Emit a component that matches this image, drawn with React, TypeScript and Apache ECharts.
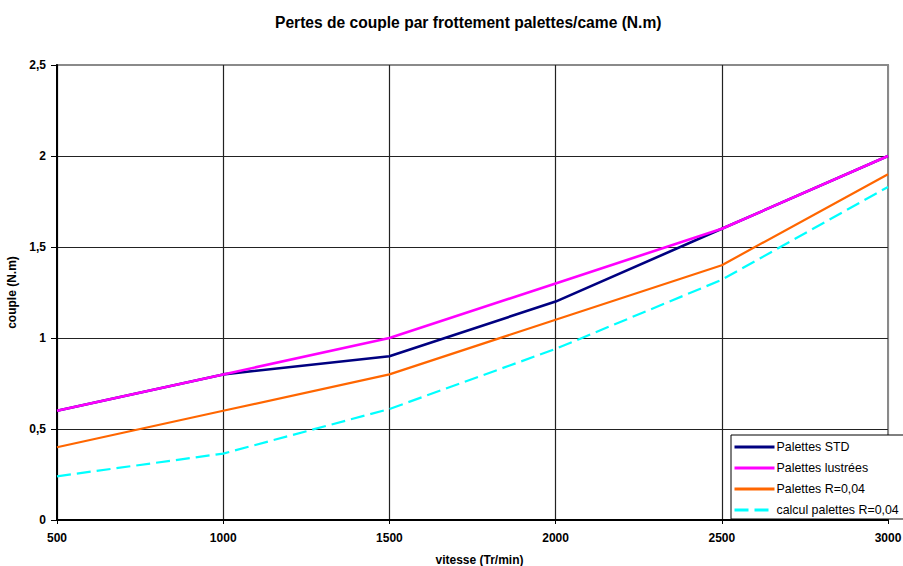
import React, { useEffect, useRef } from "react";
import * as echarts from "echarts";

const speeds = [500, 1000, 1500, 2000, 2500, 3000];
const palettesSTD = [0.6, 0.8, 0.9, 1.2, 1.6, 2.0];
const palettesLustrees = [0.6, 0.8, 1.0, 1.3, 1.6, 2.0];
const palettesR004 = [0.4, 0.6, 0.8, 1.1, 1.4, 1.9];
const calculR004 = [0.24, 0.365, 0.61, 0.94, 1.32, 1.83];

const seriesNames = ["Palettes STD", "Palettes lustrées", "Palettes R=0,04", "calcul palettes R=0,04"];
const xTicks = [500, 1000, 1500, 2000, 2500, 3000];
const yTicks = ["0", "0,5", "1", "1,5", "2", "2,5"];

const FONT = "'Liberation Sans', Arial, sans-serif";

function pairs(vals: number[]) {
  return speeds.map((s, i) => [s, vals[i]]);
}

export default function App() {
  const ref = useRef<HTMLDivElement>(null);
  useEffect(() => {
    if (!ref.current) return;
    const chart = echarts.init(ref.current, null, { renderer: "svg" });
    chart.setOption({
      animation: false,
      backgroundColor: "#ffffff",
      textStyle: { fontFamily: FONT },
      title: {
        text: "Pertes de couple par frottement palettes/came (N.m)",
        left: 270,
        top: 9,
        textStyle: { fontFamily: FONT, fontSize: 15.6, fontWeight: "bold", color: "#000" },
      },
      grid: {
        left: 57,
        right: 15,
        top: 65,
        bottom: 46,
        show: true,
        borderColor: "#8a8a8a",
        borderWidth: 2,
        backgroundColor: "#fff",
        outerBoundsMode: "none",
        containLabel: false,
      },
      xAxis: {
        type: "value",
        min: 500,
        max: 3000,
        interval: 500,
        name: "vitesse (Tr/min)",
        nameLocation: "middle",
        nameGap: 34,
        nameTextStyle: { fontFamily: FONT, fontSize: 12, fontWeight: "bold", color: "#000", padding: [0, 0, 0, 14] },
        axisLine: { lineStyle: { color: "#000", width: 2 } },
        axisTick: { show: true, length: 4, lineStyle: { color: "#000" } },
        axisLabel: {
          fontFamily: FONT,
          fontSize: 12,
          fontWeight: "bold",
          color: "#000",
          margin: 12,
          formatter: (v: number) => String(xTicks[xTicks.indexOf(v)] ?? v),
        },
        splitLine: {
          show: true,
          lineStyle: { color: ["#222", "#222", "#222", "#222", "#222", "#8a8a8a"], width: 1.2 },
        },
      },
      yAxis: {
        type: "value",
        min: 0,
        max: 2.5,
        interval: 0.5,
        name: "couple (N.m)",
        nameLocation: "middle",
        nameGap: 35,
        nameRotate: 90,
        nameTextStyle: { fontFamily: FONT, fontSize: 12, fontWeight: "bold", color: "#000" },
        axisLine: { show: true, lineStyle: { color: "#000", width: 2 } },
        axisTick: { show: true, length: 6, lineStyle: { color: "#000" } },
        axisLabel: {
          fontFamily: FONT,
          fontSize: 12,
          fontWeight: "bold",
          color: "#000",
          margin: 11,
          formatter: (v: number) => yTicks[Math.round(v / 0.5)] ?? String(v),
        },
        splitLine: {
          show: true,
          lineStyle: { color: ["#222", "#222", "#222", "#222", "#222", "#8a8a8a"], width: 1.2 },
        },
      },
      legend: {
        orient: "vertical",
        left: 731,
        top: 435,
        backgroundColor: "#fff",
        borderColor: "#000",
        borderWidth: 1,
        borderRadius: 0,
        padding: [6, 40, 3, 2],
        itemWidth: 40,
        itemHeight: 14,
        itemGap: 9,
        itemStyle: { opacity: 0 },
        lineStyle: { width: 3 },
        textStyle: { fontFamily: FONT, fontSize: 12.4, color: "#000", padding: [0, 0, 0, -3] },
        data: seriesNames,
      },
      series: [
        {
          name: seriesNames[0],
          type: "line",
          data: pairs(palettesSTD),
          symbol: "none",
          lineStyle: { color: "#000080", width: 2.6 },
          itemStyle: { color: "#000080" },
          z: 3,
        },
        {
          name: seriesNames[1],
          type: "line",
          data: pairs(palettesLustrees),
          symbol: "none",
          lineStyle: { color: "#ff00ff", width: 2.6 },
          itemStyle: { color: "#ff00ff" },
          z: 4,
        },
        {
          name: seriesNames[2],
          type: "line",
          data: pairs(palettesR004),
          symbol: "none",
          lineStyle: { color: "#ff6600", width: 2.2 },
          itemStyle: { color: "#ff6600" },
          z: 2,
        },
        {
          name: seriesNames[3],
          type: "line",
          data: pairs(calculR004),
          symbol: "none",
          lineStyle: { color: "#00ffff", width: 2.2, type: [14, 6] },
          itemStyle: { color: "#00ffff" },
          z: 2,
        },
      ],
    });
    return () => chart.dispose();
  }, []);
  return <div ref={ref} style={{ width: 903, height: 566, position: "fixed", left: 0, top: 0 }} />;
}
